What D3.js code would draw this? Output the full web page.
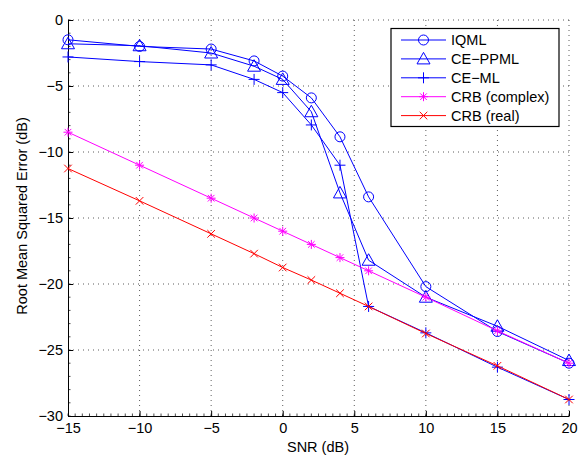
<!DOCTYPE html>
<html>
<head>
<meta charset="utf-8">
<script src="https://cdn.jsdelivr.net/npm/d3@7"></script>
<style>
  body { margin: 0; background: #fff; }
  text { font-family: "Liberation Sans", Arial, sans-serif; }
</style>
</head>
<body>
<svg id="chart" width="581" height="456"></svg>
<script>
// SNR 값 (x축)
var snr = [-15, -10, -5, -2, 0, 2, 4, 6, 10, 15, 20];

// 각 방법의 RMSE (dB)
var iqml = [-1.5, -2.0, -2.2, -3.1, -4.25, -5.9, -8.85, -13.4, -20.2, -23.6, -26.0];
var cePpml = [-1.8, -1.95, -2.5, -3.5, -4.5, -6.95, -13.1, -18.2, -21.0, -23.2, -25.8];
var ceMl = [-2.8, -3.15, -3.4, -4.5, -5.5, -7.95, -11.0, -21.7, -23.7, -26.3, -28.75];
var crbComplex = [-8.5, -11.0, -13.5, -15.0, -16.0, -17.0, -18.0, -19.0, -21.0, -23.55, -26.0];
var crbReal = [-11.25, -13.7, -16.2, -17.7, -18.75, -19.7, -20.7, -21.7, -23.75, -26.2, -28.75];

var xTicks = [-15, -10, -5, 0, 5, 10, 15, 20];
var yTicks = [0, -5, -10, -15, -20, -25, -30];

var series = [
  { name: "IQML", values: iqml, color: "#0000ff", marker: "circle" },
  { name: "CE\u2212PPML", values: cePpml, color: "#0000ff", marker: "triangle" },
  { name: "CE\u2212ML", values: ceMl, color: "#0000ff", marker: "plus" },
  { name: "CRB (complex)", values: crbComplex, color: "#ff00ff", marker: "star" },
  { name: "CRB (real)", values: crbReal, color: "#ff0000", marker: "cross" }
];

var svg = d3.select("#chart");
var m = { left: 68, right: 569, top: 20, bottom: 416 };

// 축의 범위 정의
var xScale = d3.scaleLinear().domain([-15, 20]).range([m.left, m.right]);
var yScale = d3.scaleLinear().domain([-30, 0]).range([m.bottom, m.top]);

var minus = function(v) { return String(v).replace("-", "\u2212"); };

// 그리드 (점선)
var grid = svg.append("g");
xTicks.forEach(function(t) {
  if (t === -15) return;
  grid.append("line")
    .attr("x1", xScale(t)).attr("x2", xScale(t))
    .attr("y1", m.top).attr("y2", m.bottom)
    .attr("stroke", "#333").attr("stroke-width", 0.8)
    .attr("stroke-dasharray", "1,4");
});
yTicks.forEach(function(t) {
  if (t === -30) return;
  grid.append("line")
    .attr("x1", m.left).attr("x2", m.right)
    .attr("y1", yScale(t)).attr("y2", yScale(t))
    .attr("stroke", "#333").attr("stroke-width", 0.8)
    .attr("stroke-dasharray", "1,4");
});

// minor ticks
var minorX = d3.range(-15, 20.01, 0.5);
var minorY = d3.range(-30, 0.01, 1);

// x축 생성
var xAxis = svg.append("g")
  .attr("transform", "translate(0," + m.bottom + ")")
  .call(d3.axisBottom(xScale).tickValues(xTicks).tickSizeInner(-5).tickSizeOuter(0)
    .tickPadding(7).tickFormat(minus));
xAxis.selectAll(".tick line").attr("stroke", "#000");
xAxis.append("g").selectAll("line").data(minorX).enter().append("line")
  .attr("x1", d => xScale(d)).attr("x2", d => xScale(d))
  .attr("y1", 0).attr("y2", -2.5).attr("stroke", "#000").attr("stroke-width", 0.7);

// y축 생성
var yAxis = svg.append("g")
  .attr("transform", "translate(" + m.left + ",0)")
  .call(d3.axisLeft(yScale).tickValues(yTicks).tickSizeInner(-5).tickSizeOuter(0)
    .tickPadding(5).tickFormat(minus));
yAxis.selectAll(".tick line").attr("stroke", "#000");
yAxis.append("g").selectAll("line").data(minorY).enter().append("line")
  .attr("x1", 0).attr("x2", 2.5)
  .attr("y1", d => yScale(d)).attr("y2", d => yScale(d))
  .attr("stroke", "#000").attr("stroke-width", 0.7);

[xAxis, yAxis].forEach(function(a) {
  a.selectAll(".tick text").attr("font-size", 14.5).attr("fill", "#000")
    .style("font-family", "Liberation Sans, Arial, sans-serif");
  a.select(".domain").attr("stroke", "#000").attr("stroke-width", 1);
});

// 축 라벨
svg.append("text")
  .attr("x", 318).attr("y", 452)
  .attr("text-anchor", "middle").attr("font-size", 14.5)
  .text("SNR (dB)");
svg.append("text")
  .attr("transform", "translate(27,216) rotate(-90)")
  .attr("text-anchor", "middle").attr("font-size", 14.5)
  .text("Root Mean Squared Error (dB)");

// 마커 그리기
function drawMarker(g, type, x, y, color) {
  if (type === "circle") {
    g.append("circle").attr("cx", x).attr("cy", y).attr("r", 5)
      .attr("fill", "none").attr("stroke", color).attr("stroke-width", 1);
  } else if (type === "triangle") {
    g.append("path")
      .attr("d", "M" + x + "," + (y - 6.5) + "L" + (x + 6.5) + "," + (y + 5) + "L" + (x - 6.5) + "," + (y + 5) + "Z")
      .attr("fill", "none").attr("stroke", color).attr("stroke-width", 1);
  } else if (type === "plus") {
    g.append("path")
      .attr("d", "M" + (x - 5.5) + "," + y + "H" + (x + 5.5) + "M" + x + "," + (y - 5.5) + "V" + (y + 5.5))
      .attr("stroke", color).attr("stroke-width", 1);
  } else if (type === "star") {
    var s = 4.5, d = 3.3;
    g.append("path")
      .attr("d", "M" + (x - s) + "," + y + "H" + (x + s) + "M" + x + "," + (y - s) + "V" + (y + s) +
        "M" + (x - d) + "," + (y - d) + "L" + (x + d) + "," + (y + d) +
        "M" + (x - d) + "," + (y + d) + "L" + (x + d) + "," + (y - d))
      .attr("stroke", color).attr("stroke-width", 1);
  } else if (type === "cross") {
    var c = 3.8;
    g.append("path")
      .attr("d", "M" + (x - c) + "," + (y - c) + "L" + (x + c) + "," + (y + c) +
        "M" + (x - c) + "," + (y + c) + "L" + (x + c) + "," + (y - c))
      .attr("stroke", color).attr("stroke-width", 1);
  }
}

// Line 그래프 그리기
var line = d3.line()
  .x(d => xScale(d[0]))
  .y(d => yScale(d[1]));

series.forEach(function(s) {
  var pts = snr.map((x, i) => [x, s.values[i]]);
  var g = svg.append("g");
  g.append("path").datum(pts)
    .attr("d", line)
    .attr("fill", "none")
    .attr("stroke", s.color)
    .attr("stroke-width", 1);
  pts.forEach(function(p) {
    drawMarker(g, s.marker, xScale(p[0]), yScale(p[1]), s.color);
  });
});

// 범례
var legend = svg.append("g");
legend.append("rect")
  .attr("x", 391).attr("y", 28.5).attr("width", 168).attr("height", 98)
  .attr("fill", "#fff").attr("stroke", "#000").attr("stroke-width", 1.2);
series.forEach(function(s, i) {
  var y = 40 + i * 18.9;
  legend.append("line")
    .attr("x1", 401).attr("x2", 446).attr("y1", y).attr("y2", y)
    .attr("stroke", s.color).attr("stroke-width", 1);
  drawMarker(legend, s.marker, 423.5, y, s.color);
  legend.append("text")
    .attr("x", 451).attr("y", y + 5)
    .attr("font-size", 14.5).attr("fill", "#000")
    .text(s.name);
});
</script>
</body>
</html>
